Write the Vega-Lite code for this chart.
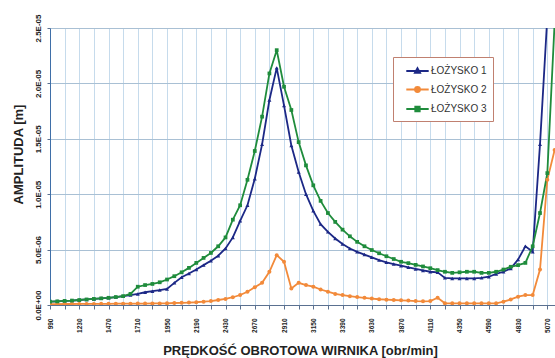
{
  "$schema": "https://vega.github.io/schema/vega-lite/v6.json",
  "width": 505,
  "height": 277,
  "autosize": "none",
  "padding": {"left": 50, "top": 28, "right": 0, "bottom": 53},
  "background": "white",
  "config": {"view": {"stroke": null}, "font": "Liberation Sans"},
  "data": {"values": [
    {"rpm": 990, "L1": 0.3e-6, "L2": 0.08e-6, "L3": 0.3e-6},
    {"rpm": 1050, "L1": 0.33e-6, "L2": 0.08e-6, "L3": 0.33e-6},
    {"rpm": 1110, "L1": 0.37e-6, "L2": 0.09e-6, "L3": 0.37e-6},
    {"rpm": 1170, "L1": 0.4e-6, "L2": 0.09e-6, "L3": 0.4e-6},
    {"rpm": 1230, "L1": 0.45e-6, "L2": 0.1e-6, "L3": 0.45e-6},
    {"rpm": 1290, "L1": 0.5e-6, "L2": 0.1e-6, "L3": 0.5e-6},
    {"rpm": 1350, "L1": 0.55e-6, "L2": 0.1e-6, "L3": 0.55e-6},
    {"rpm": 1410, "L1": 0.6e-6, "L2": 0.11e-6, "L3": 0.6e-6},
    {"rpm": 1470, "L1": 0.65e-6, "L2": 0.11e-6, "L3": 0.65e-6},
    {"rpm": 1530, "L1": 0.72e-6, "L2": 0.12e-6, "L3": 0.72e-6},
    {"rpm": 1590, "L1": 0.8e-6, "L2": 0.12e-6, "L3": 0.8e-6},
    {"rpm": 1650, "L1": 0.9e-6, "L2": 0.12e-6, "L3": 1.0e-6},
    {"rpm": 1710, "L1": 1.0e-6, "L2": 0.13e-6, "L3": 1.65e-6},
    {"rpm": 1770, "L1": 1.15e-6, "L2": 0.13e-6, "L3": 1.8e-6},
    {"rpm": 1830, "L1": 1.25e-6, "L2": 0.14e-6, "L3": 1.9e-6},
    {"rpm": 1890, "L1": 1.35e-6, "L2": 0.14e-6, "L3": 2.05e-6},
    {"rpm": 1950, "L1": 1.45e-6, "L2": 0.15e-6, "L3": 2.3e-6},
    {"rpm": 2010, "L1": 2.0e-6, "L2": 0.18e-6, "L3": 2.6e-6},
    {"rpm": 2070, "L1": 2.5e-6, "L2": 0.2e-6, "L3": 2.95e-6},
    {"rpm": 2130, "L1": 2.85e-6, "L2": 0.22e-6, "L3": 3.35e-6},
    {"rpm": 2190, "L1": 3.2e-6, "L2": 0.25e-6, "L3": 3.8e-6},
    {"rpm": 2250, "L1": 3.6e-6, "L2": 0.3e-6, "L3": 4.25e-6},
    {"rpm": 2310, "L1": 4.0e-6, "L2": 0.35e-6, "L3": 4.7e-6},
    {"rpm": 2370, "L1": 4.45e-6, "L2": 0.45e-6, "L3": 5.3e-6},
    {"rpm": 2430, "L1": 5.1e-6, "L2": 0.55e-6, "L3": 6.1e-6},
    {"rpm": 2490, "L1": 6.1e-6, "L2": 0.7e-6, "L3": 7.7e-6},
    {"rpm": 2550, "L1": 7.6e-6, "L2": 0.9e-6, "L3": 9.0e-6},
    {"rpm": 2610, "L1": 9.0e-6, "L2": 1.2e-6, "L3": 11.3e-6},
    {"rpm": 2670, "L1": 11.4e-6, "L2": 1.6e-6, "L3": 13.9e-6},
    {"rpm": 2730, "L1": 14.5e-6, "L2": 2.0e-6, "L3": 17.0e-6},
    {"rpm": 2790, "L1": 18.5e-6, "L2": 3.0e-6, "L3": 20.9e-6},
    {"rpm": 2850, "L1": 21.4e-6, "L2": 4.5e-6, "L3": 23.0e-6},
    {"rpm": 2910, "L1": 18.0e-6, "L2": 3.9e-6, "L3": 19.7e-6},
    {"rpm": 2970, "L1": 14.4e-6, "L2": 1.5e-6, "L3": 17.6e-6},
    {"rpm": 3030, "L1": 12.0e-6, "L2": 2.0e-6, "L3": 14.7e-6},
    {"rpm": 3090, "L1": 10.0e-6, "L2": 1.8e-6, "L3": 12.6e-6},
    {"rpm": 3150, "L1": 8.5e-6, "L2": 1.65e-6, "L3": 10.8e-6},
    {"rpm": 3210, "L1": 7.3e-6, "L2": 1.4e-6, "L3": 9.4e-6},
    {"rpm": 3270, "L1": 6.6e-6, "L2": 1.2e-6, "L3": 8.3e-6},
    {"rpm": 3330, "L1": 6.0e-6, "L2": 1.0e-6, "L3": 7.5e-6},
    {"rpm": 3390, "L1": 5.5e-6, "L2": 0.9e-6, "L3": 6.8e-6},
    {"rpm": 3450, "L1": 5.1e-6, "L2": 0.8e-6, "L3": 6.2e-6},
    {"rpm": 3510, "L1": 4.8e-6, "L2": 0.72e-6, "L3": 5.7e-6},
    {"rpm": 3570, "L1": 4.55e-6, "L2": 0.65e-6, "L3": 5.3e-6},
    {"rpm": 3630, "L1": 4.3e-6, "L2": 0.58e-6, "L3": 4.96e-6},
    {"rpm": 3690, "L1": 4.05e-6, "L2": 0.52e-6, "L3": 4.67e-6},
    {"rpm": 3750, "L1": 3.85e-6, "L2": 0.48e-6, "L3": 4.4e-6},
    {"rpm": 3810, "L1": 3.7e-6, "L2": 0.45e-6, "L3": 4.15e-6},
    {"rpm": 3870, "L1": 3.55e-6, "L2": 0.42e-6, "L3": 3.9e-6},
    {"rpm": 3930, "L1": 3.4e-6, "L2": 0.4e-6, "L3": 3.78e-6},
    {"rpm": 3990, "L1": 3.25e-6, "L2": 0.35e-6, "L3": 3.62e-6},
    {"rpm": 4050, "L1": 3.12e-6, "L2": 0.33e-6, "L3": 3.48e-6},
    {"rpm": 4110, "L1": 3.0e-6, "L2": 0.35e-6, "L3": 3.32e-6},
    {"rpm": 4170, "L1": 2.95e-6, "L2": 0.65e-6, "L3": 3.15e-6},
    {"rpm": 4230, "L1": 2.45e-6, "L2": 0.15e-6, "L3": 3.0e-6},
    {"rpm": 4290, "L1": 2.4e-6, "L2": 0.15e-6, "L3": 2.9e-6},
    {"rpm": 4350, "L1": 2.4e-6, "L2": 0.15e-6, "L3": 2.95e-6},
    {"rpm": 4410, "L1": 2.4e-6, "L2": 0.15e-6, "L3": 3.0e-6},
    {"rpm": 4470, "L1": 2.4e-6, "L2": 0.15e-6, "L3": 3.0e-6},
    {"rpm": 4530, "L1": 2.45e-6, "L2": 0.15e-6, "L3": 2.9e-6},
    {"rpm": 4590, "L1": 2.55e-6, "L2": 0.15e-6, "L3": 2.9e-6},
    {"rpm": 4650, "L1": 2.8e-6, "L2": 0.15e-6, "L3": 3.0e-6},
    {"rpm": 4710, "L1": 3.0e-6, "L2": 0.3e-6, "L3": 3.2e-6},
    {"rpm": 4770, "L1": 3.3e-6, "L2": 0.5e-6, "L3": 3.45e-6},
    {"rpm": 4830, "L1": 4.1e-6, "L2": 0.75e-6, "L3": 3.6e-6},
    {"rpm": 4890, "L1": 5.3e-6, "L2": 0.9e-6, "L3": 3.8e-6},
    {"rpm": 4950, "L1": 4.8e-6, "L2": 0.9e-6, "L3": 5.3e-6},
    {"rpm": 5010, "L1": 14.5e-6, "L2": 3.2e-6, "L3": 8.3e-6},
    {"rpm": 5070, "L1": 26e-6, "L2": 11.3e-6, "L3": 11.9e-6},
    {"rpm": 5130, "L1": 40e-6, "L2": 14e-6, "L3": 25.5e-6}
  ]},
  "transform": [{"fold": ["L1", "L2", "L3"], "as": ["seria", "amp"]}],
  "encoding": {
    "x": {
      "field": "rpm", "type": "quantitative",
      "scale": {"domain": [990, 5133], "nice": false, "zero": false},
      "axis": {
        "values": [990,1110,1230,1350,1470,1590,1710,1830,1950,2070,2190,2310,2430,2550,2670,2790,2910,3030,3150,3270,3390,3510,3630,3750,3870,3990,4110,4230,4350,4470,4590,4710,4830,4950,5070],
        "format": "d",
        "labelExpr": "(datum.value - 990) % 240 === 0 ? datum.label : ''",
        "labelAngle": -90, "labelAlign": "right", "labelBaseline": "middle",
        "labelFontSize": 6.5, "labelFontWeight": "bold", "labelColor": "#222",
        "labelPadding": 9, "labelOverlap": false, "labelFlush": false,
        "ticks": true, "tickSize": 4, "tickColor": "#5a7090",
        "grid": true, "gridColor": "#c6dbec", "gridWidth": 1,
        "domainColor": "#5a7090", "domainWidth": 1,
        "title": "PRĘDKOŚĆ OBROTOWA WIRNIKA  [obr/min]",
        "titleFontSize": 13, "titleFontWeight": "bold", "titleColor": "#222",
        "titleX": 250, "titleY": 45, "titleAlign": "center", "titleBaseline": "middle"
      }
    },
    "y": {
      "field": "amp", "type": "quantitative",
      "scale": {"domain": [0, 0.000025], "nice": false, "zero": true},
      "axis": {
        "values": [0, 0.000005, 0.00001, 0.000015, 0.00002, 0.000025],
        "labelExpr": "replace(replace(upper(format(datum.value, '.1e')), 'E-', 'E-0'), 'E+', 'E+0')",
        "labelAngle": -90, "labelAlign": "center", "labelBaseline": "middle",
        "labelFontSize": 8, "labelFontWeight": "bold", "labelColor": "#222",
        "labelPadding": 9, "labelOverlap": false, "labelFlush": false,
        "ticks": true, "tickSize": 3, "tickColor": "#5a7090",
        "grid": true, "gridColor": "#a9c0d4", "gridWidth": 1,
        "domainColor": "#3f6fa8", "domainWidth": 1,
        "title": "AMPLITUDA [m]",
        "titleFontSize": 13, "titleFontWeight": "bold", "titleColor": "#222",
        "titleAngle": -90, "titleX": -32, "titleY": 126, "titleAlign": "center", "titleBaseline": "middle"
      }
    },
    "color": {
      "field": "seria", "type": "nominal",
      "scale": {"domain": ["L1", "L2", "L3"], "range": ["#1c2886", "#f28a3a", "#1f8c3c"]},
      "legend": {
        "orient": "none", "legendX": 343, "legendY": 29, "title": null,
        "padding": 6, "strokeColor": "#c08070", "fillColor": "white",
        "symbolType": "stroke",
        "symbolSize": 196, "symbolStrokeWidth": 1.8, "labelOffset": 16, "rowPadding": 4.5,
        "labelFontSize": 10, "labelColor": "#333", "labelFont": "Liberation Sans",
        "labelExpr": "datum.value === 'L1' ? 'ŁOŻYSKO 1' : datum.value === 'L2' ? 'ŁOŻYSKO 2' : 'ŁOŻYSKO 3'",
        "encode": {
          "symbols": {
            "enter": {
              "shape": {"signal": "datum.value === 'L1' ? 'M-0.1,0H3.1M1.5,-0.42L1.88,0.28L1.12,0.28Z' : datum.value === 'L2' ? 'M-0.1,0H3.1M1.86,0A0.36,0.36,0,1,1,1.14,0A0.36,0.36,0,1,1,1.86,0Z' : 'M-0.1,0H3.1M1.18,-0.32H1.82V0.32H1.18Z'"}
            },
            "update": {
              "shape": {"signal": "datum.value === 'L1' ? 'M-0.1,0H3.1M1.5,-0.42L1.88,0.28L1.12,0.28Z' : datum.value === 'L2' ? 'M-0.1,0H3.1M1.86,0A0.36,0.36,0,1,1,1.14,0A0.36,0.36,0,1,1,1.86,0Z' : 'M-0.1,0H3.1M1.18,-0.32H1.82V0.32H1.18Z'"},
              "fill": {"signal": "datum.value === 'L1' ? '#1c2886' : datum.value === 'L2' ? '#f28a3a' : '#1f8c3c'"},
              "stroke": {"signal": "datum.value === 'L1' ? '#1c2886' : datum.value === 'L2' ? '#f28a3a' : '#1f8c3c'"},
              "fillOpacity": {"value": 1},
              "strokeWidth": {"value": 1.8}
            }
          }
        }
      }
    }
  },
  "layer": [
    {"mark": {"type": "line", "strokeWidth": 1.8, "clip": true}},
    {
      "transform": [{"filter": "datum.seria === 'L1'"}],
      "mark": {"type": "point", "shape": "triangle-up", "filled": true, "size": 16, "opacity": 1, "clip": true}
    },
    {
      "transform": [{"filter": "datum.seria === 'L2'"}],
      "mark": {"type": "point", "shape": "circle", "filled": true, "size": 16, "opacity": 1, "clip": true}
    },
    {
      "transform": [{"filter": "datum.seria === 'L3'"}],
      "mark": {"type": "point", "shape": "square", "filled": true, "size": 14, "opacity": 1, "clip": true}
    }
  ]
}
